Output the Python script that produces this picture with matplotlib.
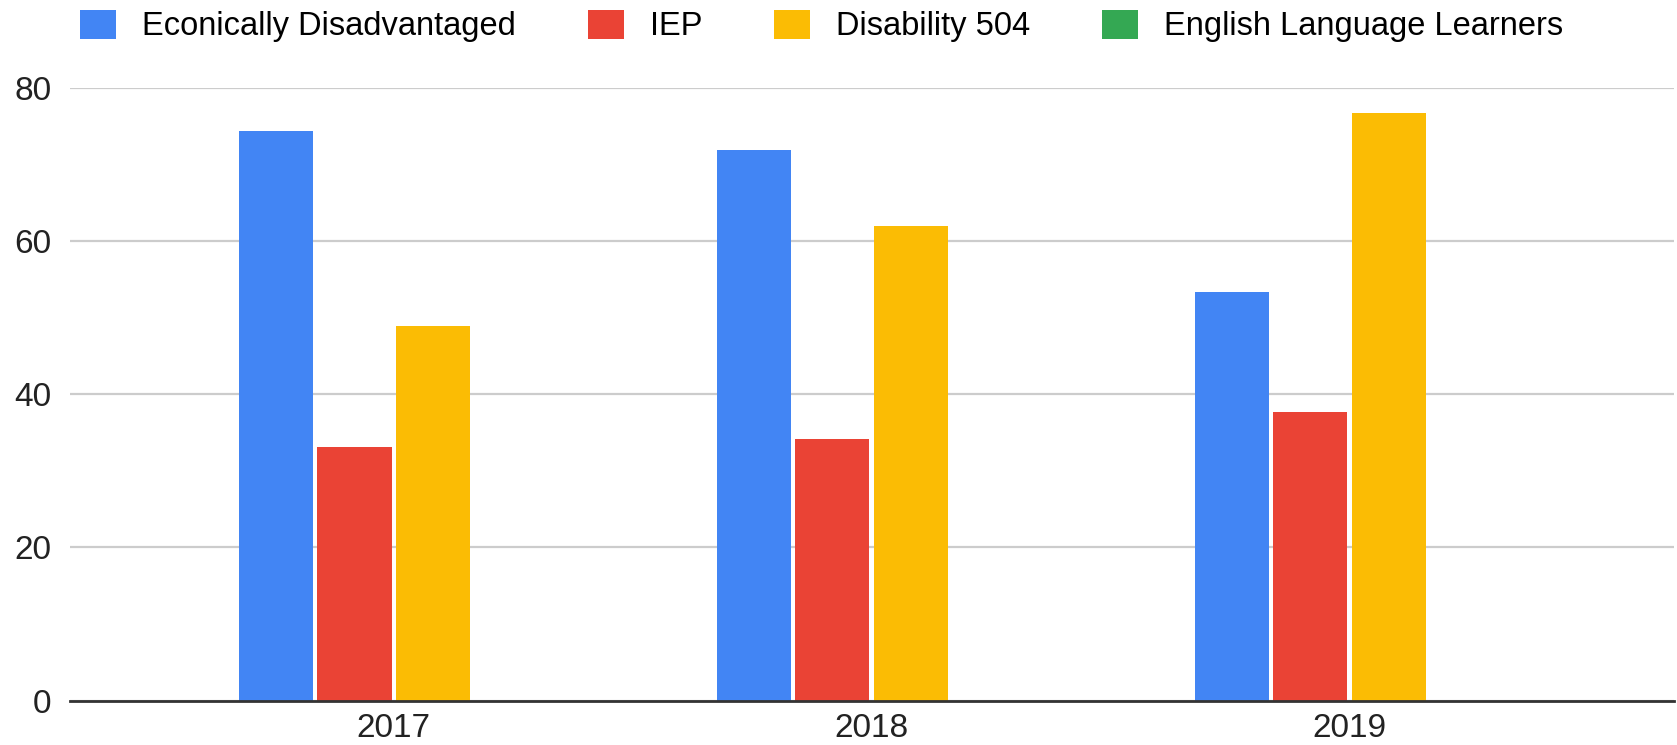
import matplotlib
matplotlib.use("Agg")
from matplotlib import pyplot as plt
from matplotlib.patches import Patch
import numpy as np

years = ["2017", "2018", "2019"]
series = ["Econically Disadvantaged", "IEP", "Disability 504", "English Language Learners"]
econ = [74.3, 71.9, 53.3]
iep = [33.1, 34.1, 37.6]
dis504 = [48.9, 61.9, 76.7]
ell = [0, 0, 0]
colors = ["#4285F4", "#EA4335", "#FBBC04", "#34A853"]

plt.rcParams["font.family"] = ["Liberation Sans", "DejaVu Sans"]

fig = plt.figure(figsize=(16.77, 7.45), dpi=100)
ax = fig.add_axes([0.0415, 0.0597, 0.9565, 0.8226])

x = np.arange(len(years))
slot = 0.164
width = 0.155
for i, (vals, col) in enumerate(zip([econ, iep, dis504, ell], colors)):
    ax.bar(x + (i - 1.5) * slot, vals, width, color=col, zorder=3)

ax.set_xlim(-0.678, 2.678)
ax.set_ylim(0, 80)
ax.set_yticks([0, 20, 40, 60, 80])
ax.set_xticks(x)
ax.set_xticklabels(years)
ax.tick_params(axis="both", length=0, labelsize=24, colors="#222222")
ax.tick_params(axis="y", pad=13)
ax.tick_params(axis="x", pad=9)

ax.grid(axis="y", color="#cccccc", linewidth=1.6, zorder=0)
ax.grid(axis="x", visible=False)
for s in ["top", "right", "left"]:
    ax.spines[s].set_visible(False)
ax.spines["bottom"].set_color("#333333")
ax.spines["bottom"].set_linewidth(2)
ax.spines["bottom"].set_zorder(4)

handles = [Patch(facecolor=c, edgecolor="none") for c in colors]
fig.legend(handles, series, loc="upper left", bbox_to_anchor=(0.036, 1.013),
           ncol=4, frameon=False, fontsize=23.5, handlelength=1.1, handleheight=0.98,
           handletextpad=0.8, columnspacing=2.2, borderaxespad=0.2)

fig.savefig("out.png", dpi=100, facecolor="white")
